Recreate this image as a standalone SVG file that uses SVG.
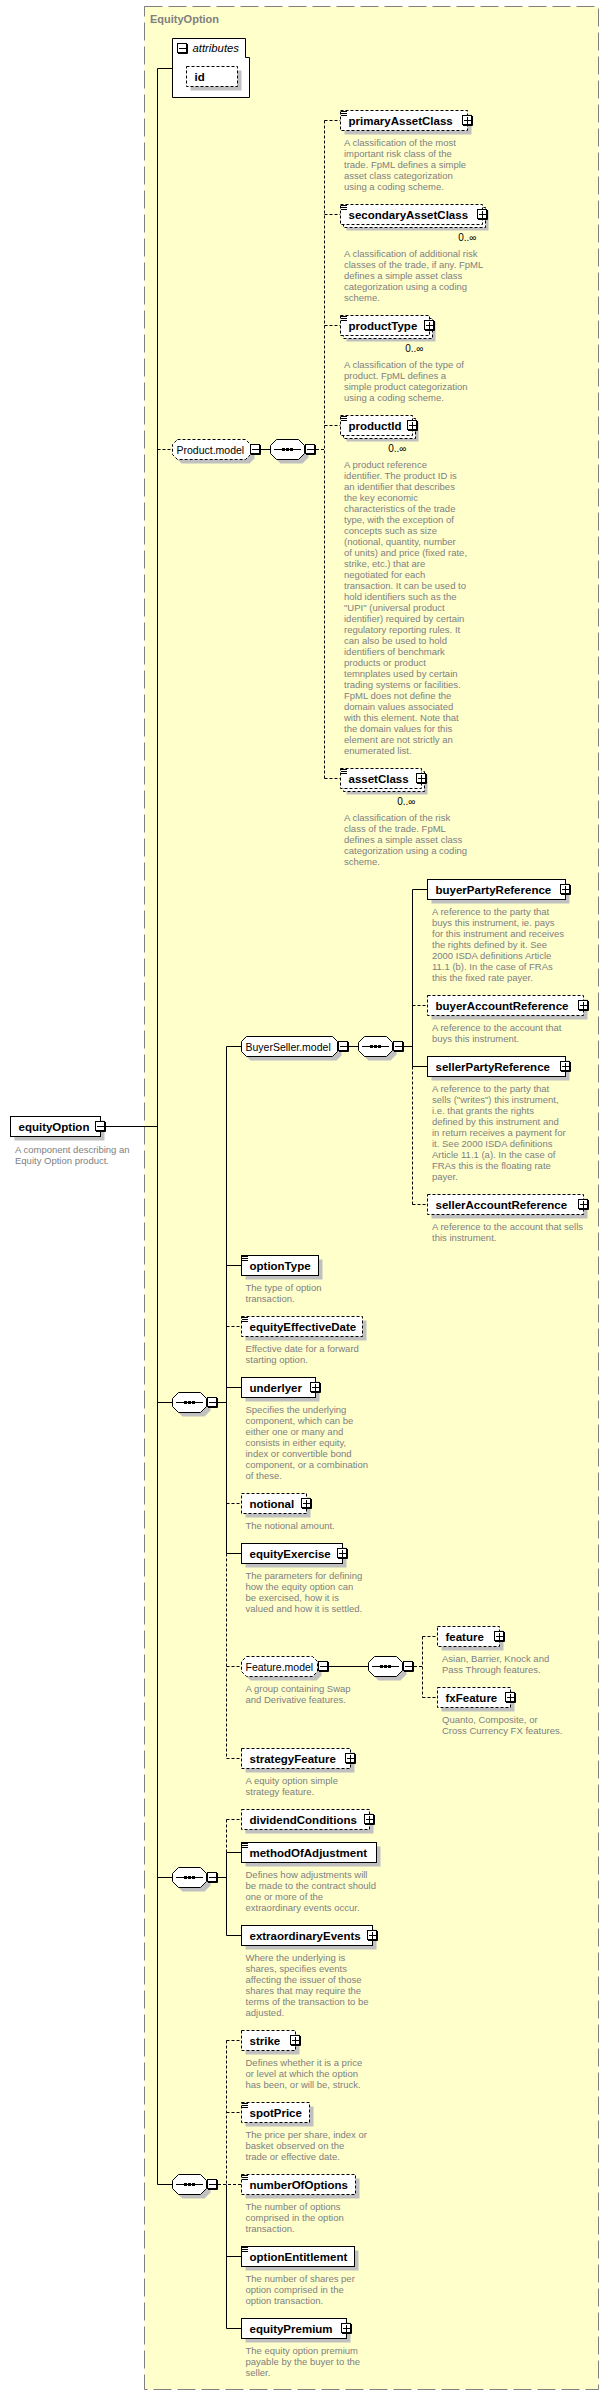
<svg xmlns="http://www.w3.org/2000/svg" width="610" height="2395" viewBox="0 0 610 2395">
<style>
.bx{fill:#fff;stroke:#000;stroke-width:1}
.dsh{stroke-dasharray:3 2}
.sh{fill:#c0c0c0;stroke:none}
.ln{stroke:#000;fill:none;stroke-width:1}
.dl{stroke-dasharray:3 2}
.lb{font-family:"Liberation Sans",Arial,sans-serif;font-weight:bold;font-size:11.5px;fill:#000}
.gl{font-family:"Liberation Sans",Arial,sans-serif;font-size:10.5px;fill:#000}
.ds{font-family:"Liberation Sans",Arial,sans-serif;font-size:9.5px;fill:#808080}
.oc{font-family:"Liberation Sans",Arial,sans-serif;font-size:10px;fill:#000}
</style>
<defs>
<g id="pl"><rect x="0.5" y="0.5" width="9" height="9" fill="#fff" stroke="#000"/><path d="M10.5,1V10.5H1" fill="none" stroke="#000"/><path d="M2,5.5H9M5.5,2V9" stroke="#000"/></g>
<g id="mi"><rect x="0.5" y="0.5" width="9" height="9" fill="#fff" stroke="#000"/><path d="M10.5,1V10.5H1" fill="none" stroke="#000"/><path d="M2,5.5H9" stroke="#000"/></g>
<g id="eq"><path d="M1,1.5H7M1,3.5H7M1,5.5H7" stroke="#000"/></g>
<g id="seq"><path class="sh" transform="translate(4,4)" d="M6.5,.5H28.5L34.5,6.5V14.5L28.5,20.5H6.5L.5,14.5V6.5Z"/><path class="bx" d="M6.5,.5H28.5L34.5,6.5V14.5L28.5,20.5H6.5L.5,14.5V6.5Z"/><path d="M4,10.5H31" stroke="#000"/><path d="M12,9h3v3h-3zM16,9h3v3h-3zM20,9h3v3h-3z" fill="#000"/><use href="#mi" x="35" y="5"/></g>
</defs>
<rect x="144.5" y="6.5" width="454" height="2383" fill="#ffffcc" stroke="#808080" stroke-dasharray="18 6"/>
<text x="150" y="23" font-family="Liberation Sans,Arial,sans-serif" font-weight="bold" font-size="11px" fill="#808080">EquityOption</text>

<g id="connectors">
<path class="ln" d="M106,1126.5H157.5M157.5,68.5V2184.5M157.5,68.5H172.5"/>
<path class="ln dl" d="M157.5,449.5H172.5"/>
<path class="ln" d="M261,449.5H270.5"/>
<path class="ln dl" d="M316,449.5H324.5M324.5,120.5V778.5M324.5,120.5H340.5M324.5,214.5H340.5M324.5,325.5H340.5M324.5,425.5H340.5M324.5,778.5H340.5"/>
<path class="ln" d="M157.5,1402.5H172.5M218,1402.5H226.5M226.5,1046.5V1553.5M226.5,1046.5H241.5M226.5,1265.5H241.5M226.5,1387.5H241.5M226.5,1553.5H241.5"/>
<path class="ln dl" d="M226.5,1553.5V1758.5M226.5,1326.5H241.5M226.5,1503.5H241.5M226.5,1666.5H241.5M226.5,1758.5H241.5"/>
<path class="ln" d="M349,1046.5H358.5M404,1046.5H412.5M412.5,889.5V1066.5M412.5,889.5H427.5M412.5,1066.5H427.5"/>
<path class="ln dl" d="M412.5,1066.5V1204.5M412.5,1005.5H427.5M412.5,1204.5H427.5"/>
<path class="ln" d="M329,1666.5H368.5"/>
<path class="ln dl" d="M414,1666.5H422.5M422.5,1636.5V1697.5M422.5,1636.5H437.5M422.5,1697.5H437.5"/>
<path class="ln" d="M157.5,1877.5H172.5M218,1877.5H226.5M226.5,1852.5V1935.5M226.5,1852.5H241.5M226.5,1935.5H241.5"/>
<path class="ln dl" d="M226.5,1819.5V1852.5M226.5,1819.5H241.5"/>
<path class="ln" d="M157.5,2184.5H172.5M226.5,2184.5V2328.5M226.5,2256.5H241.5M226.5,2328.5H241.5"/>
<path class="ln dl" d="M218,2184.5H241.5M226.5,2040.5V2184.5M226.5,2040.5H241.5M226.5,2112.5H241.5"/>
</g>

<g id="attributes">
<path class="bx" d="M172.5,38.5H245.5V57.5H249.5V97.5H172.5Z"/>
<use href="#mi" x="177" y="43"/>
<text x="192.5" y="52" font-family="Liberation Sans,Arial,sans-serif" font-style="italic" font-size="11.3px">attributes</text>
<rect class="sh" x="190.5" y="70.5" width="51" height="20"/>
<rect class="bx dsh" x="186.5" y="66.5" width="51" height="20"/>
<text class="lb" x="194.5" y="80.5">id</text>
</g>

<g id="equityOption">
<rect class="sh" x="14.5" y="1120.5" width="90" height="20"/>
<rect class="bx" x="10.5" y="1116.5" width="90" height="20"/>
<text class="lb" x="18.5" y="1130.5">equityOption</text>
<use href="#mi" x="95" y="1121"/>
<text class="ds" x="15" y="1152.5">A component describing an<tspan x="15" dy="11">Equity Option product.</tspan></text>
</g>

<g id="ProductModel">
<path class="sh" transform="translate(4,4)" d="M177.5,439.5H245.5L250.5,444.5V454.5L245.5,459.5H177.5L172.5,454.5V444.5Z"/>
<path class="bx dsh" d="M177.5,439.5H245.5L250.5,444.5V454.5L245.5,459.5H177.5L172.5,454.5V444.5Z"/>
<text class="gl" x="176.5" y="453.5">Product.model</text>
<use href="#mi" x="250" y="444"/>
<use href="#seq" x="270" y="439"/>
</g>

<g id="primaryAssetClass">
<rect class="sh" x="344.5" y="114.5" width="127" height="20"/>
<rect class="bx dsh" x="340.5" y="110.5" width="127" height="20"/>
<use href="#eq" x="340" y="110"/>
<text class="lb" x="348.5" y="124.5">primaryAssetClass</text>
<use href="#pl" x="462" y="115"/>
<text class="ds" x="344" y="146">A classification of the most<tspan x="344" dy="11">important risk class of the</tspan><tspan x="344" dy="11">trade. FpML defines a simple</tspan><tspan x="344" dy="11">asset class categorization</tspan><tspan x="344" dy="11">using a coding scheme.</tspan></text>
</g>

<g id="secondaryAssetClass">
<rect class="sh" x="346.5" y="210.5" width="142" height="20"/>
<rect class="bx dsh" x="343.5" y="207.5" width="142" height="20"/>
<rect class="bx dsh" x="340.5" y="204.5" width="142" height="20"/>
<use href="#eq" x="340" y="204"/>
<text class="lb" x="348.5" y="218.5">secondaryAssetClass</text>
<use href="#pl" x="477" y="209"/>
<text class="oc" x="476.5" y="241" text-anchor="end">0..∞</text>
<text class="ds" x="344" y="257">A classification of additional risk<tspan x="344" dy="11">classes of the trade, if any. FpML</tspan><tspan x="344" dy="11">defines a simple asset class</tspan><tspan x="344" dy="11">categorization using a coding</tspan><tspan x="344" dy="11">scheme.</tspan></text>
</g>

<g id="productType">
<rect class="sh" x="346.5" y="321.5" width="89" height="20"/>
<rect class="bx dsh" x="343.5" y="318.5" width="89" height="20"/>
<rect class="bx dsh" x="340.5" y="315.5" width="89" height="20"/>
<use href="#eq" x="340" y="315"/>
<text class="lb" x="348.5" y="329.5">productType</text>
<use href="#pl" x="424" y="320"/>
<text class="oc" x="423.5" y="352" text-anchor="end">0..∞</text>
<text class="ds" x="344" y="368">A classification of the type of<tspan x="344" dy="11">product. FpML defines a</tspan><tspan x="344" dy="11">simple product categorization</tspan><tspan x="344" dy="11">using a coding scheme.</tspan></text>
</g>

<g id="productId">
<rect class="sh" x="346.5" y="421.5" width="72" height="20"/>
<rect class="bx dsh" x="343.5" y="418.5" width="72" height="20"/>
<rect class="bx dsh" x="340.5" y="415.5" width="72" height="20"/>
<use href="#eq" x="340" y="415"/>
<text class="lb" x="348.5" y="429.5">productId</text>
<use href="#pl" x="407" y="420"/>
<text class="oc" x="406.5" y="452" text-anchor="end">0..∞</text>
<text class="ds" x="344" y="468">A product reference<tspan x="344" dy="11">identifier. The product ID is</tspan><tspan x="344" dy="11">an identifier that describes</tspan><tspan x="344" dy="11">the key economic</tspan><tspan x="344" dy="11">characteristics of the trade</tspan><tspan x="344" dy="11">type, with the exception of</tspan><tspan x="344" dy="11">concepts such as size</tspan><tspan x="344" dy="11">(notional, quantity, number</tspan><tspan x="344" dy="11">of units) and price (fixed rate,</tspan><tspan x="344" dy="11">strike, etc.) that are</tspan><tspan x="344" dy="11">negotiated for each</tspan><tspan x="344" dy="11">transaction. It can be used to</tspan><tspan x="344" dy="11">hold identifiers such as the</tspan><tspan x="344" dy="11">"UPI" (universal product</tspan><tspan x="344" dy="11">identifier) required by certain</tspan><tspan x="344" dy="11">regulatory reporting rules. It</tspan><tspan x="344" dy="11">can also be used to hold</tspan><tspan x="344" dy="11">identifiers of benchmark</tspan><tspan x="344" dy="11">products or product</tspan><tspan x="344" dy="11">temnplates used by certain</tspan><tspan x="344" dy="11">trading systems or facilities.</tspan><tspan x="344" dy="11">FpML does not define the</tspan><tspan x="344" dy="11">domain values associated</tspan><tspan x="344" dy="11">with this element. Note that</tspan><tspan x="344" dy="11">the domain values for this</tspan><tspan x="344" dy="11">element are not strictly an</tspan><tspan x="344" dy="11">enumerated list.</tspan></text>
</g>

<g id="assetClass">
<rect class="sh" x="346.5" y="774.5" width="81" height="20"/>
<rect class="bx dsh" x="343.5" y="771.5" width="81" height="20"/>
<rect class="bx dsh" x="340.5" y="768.5" width="81" height="20"/>
<use href="#eq" x="340" y="768"/>
<text class="lb" x="348.5" y="782.5">assetClass</text>
<use href="#pl" x="416" y="773"/>
<text class="oc" x="415.5" y="805" text-anchor="end">0..∞</text>
<text class="ds" x="344" y="821">A classification of the risk<tspan x="344" dy="11">class of the trade. FpML</tspan><tspan x="344" dy="11">defines a simple asset class</tspan><tspan x="344" dy="11">categorization using a coding</tspan><tspan x="344" dy="11">scheme.</tspan></text>
</g>

<g id="BuyerSellerModel">
<path class="sh" transform="translate(4,4)" d="M246.5,1036.5H332.5L337.5,1041.5V1051.5L332.5,1056.5H246.5L241.5,1051.5V1041.5Z"/>
<path class="bx" d="M246.5,1036.5H332.5L337.5,1041.5V1051.5L332.5,1056.5H246.5L241.5,1051.5V1041.5Z"/>
<text class="gl" x="245.5" y="1050.5">BuyerSeller.model</text>
<use href="#mi" x="338" y="1041"/>
<use href="#seq" x="358" y="1036"/>
</g>

<g id="buyerPartyReference">
<rect class="sh" x="431.5" y="883.5" width="138" height="20"/>
<rect class="bx" x="427.5" y="879.5" width="138" height="20"/>
<text class="lb" x="435.5" y="893.5">buyerPartyReference</text>
<use href="#pl" x="560" y="884"/>
<text class="ds" x="432" y="915">A reference to the party that<tspan x="432" dy="11">buys this instrument, ie. pays</tspan><tspan x="432" dy="11">for this instrument and receives</tspan><tspan x="432" dy="11">the rights defined by it. See</tspan><tspan x="432" dy="11">2000 ISDA definitions Article</tspan><tspan x="432" dy="11">11.1 (b). In the case of FRAs</tspan><tspan x="432" dy="11">this the fixed rate payer.</tspan></text>
</g>

<g id="buyerAccountReference">
<rect class="sh" x="431.5" y="999.5" width="156" height="20"/>
<rect class="bx dsh" x="427.5" y="995.5" width="156" height="20"/>
<text class="lb" x="435.5" y="1009.5">buyerAccountReference</text>
<use href="#pl" x="578" y="1000"/>
<text class="ds" x="432" y="1031">A reference to the account that<tspan x="432" dy="11">buys this instrument.</tspan></text>
</g>

<g id="sellerPartyReference">
<rect class="sh" x="431.5" y="1060.5" width="138" height="20"/>
<rect class="bx" x="427.5" y="1056.5" width="138" height="20"/>
<text class="lb" x="435.5" y="1070.5">sellerPartyReference</text>
<use href="#pl" x="560" y="1061"/>
<text class="ds" x="432" y="1092">A reference to the party that<tspan x="432" dy="11">sells ("writes") this instrument,</tspan><tspan x="432" dy="11">i.e. that grants the rights</tspan><tspan x="432" dy="11">defined by this instrument and</tspan><tspan x="432" dy="11">in return receives a payment for</tspan><tspan x="432" dy="11">it. See 2000 ISDA definitions</tspan><tspan x="432" dy="11">Article 11.1 (a). In the case of</tspan><tspan x="432" dy="11">FRAs this is the floating rate</tspan><tspan x="432" dy="11">payer.</tspan></text>
</g>

<g id="sellerAccountReference">
<rect class="sh" x="431.5" y="1198.5" width="156" height="20"/>
<rect class="bx dsh" x="427.5" y="1194.5" width="156" height="20"/>
<text class="lb" x="435.5" y="1208.5">sellerAccountReference</text>
<use href="#pl" x="578" y="1199"/>
<text class="ds" x="432" y="1230">A reference to the account that sells<tspan x="432" dy="11">this instrument.</tspan></text>
</g>

<g id="sequence1"><use href="#seq" x="172" y="1392"/></g>

<g id="optionType">
<rect class="sh" x="245.5" y="1259.5" width="77" height="20"/>
<rect class="bx" x="241.5" y="1255.5" width="77" height="20"/>
<use href="#eq" x="241" y="1255"/>
<text class="lb" x="249.5" y="1269.5">optionType</text>
<text class="ds" x="245.5" y="1291">The type of option<tspan x="245.5" dy="11">transaction.</tspan></text>
</g>

<g id="equityEffectiveDate">
<rect class="sh" x="245.5" y="1320.5" width="121" height="20"/>
<rect class="bx dsh" x="241.5" y="1316.5" width="121" height="20"/>
<use href="#eq" x="241" y="1316"/>
<text class="lb" x="249.5" y="1330.5">equityEffectiveDate</text>
<text class="ds" x="245.5" y="1352">Effective date for a forward<tspan x="245.5" dy="11">starting option.</tspan></text>
</g>

<g id="underlyer">
<rect class="sh" x="245.5" y="1381.5" width="74" height="20"/>
<rect class="bx" x="241.5" y="1377.5" width="74" height="20"/>
<text class="lb" x="249.5" y="1391.5">underlyer</text>
<use href="#pl" x="310" y="1382"/>
<text class="ds" x="245.5" y="1413">Specifies the underlying<tspan x="245.5" dy="11">component, which can be</tspan><tspan x="245.5" dy="11">either one or many and</tspan><tspan x="245.5" dy="11">consists in either equity,</tspan><tspan x="245.5" dy="11">index or convertible bond</tspan><tspan x="245.5" dy="11">component, or a combination</tspan><tspan x="245.5" dy="11">of these.</tspan></text>
</g>

<g id="notional">
<rect class="sh" x="245.5" y="1497.5" width="65" height="20"/>
<rect class="bx dsh" x="241.5" y="1493.5" width="65" height="20"/>
<text class="lb" x="249.5" y="1507.5">notional</text>
<use href="#pl" x="301" y="1498"/>
<text class="ds" x="245.5" y="1529">The notional amount.</text>
</g>

<g id="equityExercise">
<rect class="sh" x="245.5" y="1547.5" width="101" height="20"/>
<rect class="bx" x="241.5" y="1543.5" width="101" height="20"/>
<text class="lb" x="249.5" y="1557.5">equityExercise</text>
<use href="#pl" x="337" y="1548"/>
<text class="ds" x="245.5" y="1579">The parameters for defining<tspan x="245.5" dy="11">how the equity option can</tspan><tspan x="245.5" dy="11">be exercised, how it is</tspan><tspan x="245.5" dy="11">valued and how it is settled.</tspan></text>
</g>

<g id="FeatureModel">
<path class="sh" transform="translate(4,4)" d="M246.5,1656.5H312.5L317.5,1661.5V1671.5L312.5,1676.5H246.5L241.5,1671.5V1661.5Z"/>
<path class="bx dsh" d="M246.5,1656.5H312.5L317.5,1661.5V1671.5L312.5,1676.5H246.5L241.5,1671.5V1661.5Z"/>
<text class="gl" x="245.5" y="1670.5">Feature.model</text>
<use href="#mi" x="318" y="1661"/>
<use href="#seq" x="368" y="1656"/>
<text class="ds" x="245.5" y="1692">A group containing Swap<tspan x="245.5" dy="11">and Derivative features.</tspan></text>
</g>

<g id="feature">
<rect class="sh" x="441.5" y="1630.5" width="62" height="20"/>
<rect class="bx dsh" x="437.5" y="1626.5" width="62" height="20"/>
<text class="lb" x="445.5" y="1640.5">feature</text>
<use href="#pl" x="494" y="1631"/>
<text class="ds" x="442" y="1662">Asian, Barrier, Knock and<tspan x="442" dy="11">Pass Through features.</tspan></text>
</g>

<g id="fxFeature">
<rect class="sh" x="441.5" y="1691.5" width="73" height="20"/>
<rect class="bx dsh" x="437.5" y="1687.5" width="73" height="20"/>
<text class="lb" x="445.5" y="1701.5">fxFeature</text>
<use href="#pl" x="505" y="1692"/>
<text class="ds" x="442" y="1723">Quanto, Composite, or<tspan x="442" dy="11">Cross Currency FX features.</tspan></text>
</g>

<g id="strategyFeature">
<rect class="sh" x="245.5" y="1752.5" width="109" height="20"/>
<rect class="bx dsh" x="241.5" y="1748.5" width="109" height="20"/>
<text class="lb" x="249.5" y="1762.5">strategyFeature</text>
<use href="#pl" x="345" y="1753"/>
<text class="ds" x="245.5" y="1784">A equity option simple<tspan x="245.5" dy="11">strategy feature.</tspan></text>
</g>

<g id="sequence2"><use href="#seq" x="172" y="1867"/></g>

<g id="dividendConditions">
<rect class="sh" x="245.5" y="1813.5" width="128" height="20"/>
<rect class="bx dsh" x="241.5" y="1809.5" width="128" height="20"/>
<text class="lb" x="249.5" y="1823.5">dividendConditions</text>
<use href="#pl" x="364" y="1814"/>
</g>

<g id="methodOfAdjustment">
<rect class="sh" x="245.5" y="1846.5" width="135" height="20"/>
<rect class="bx" x="241.5" y="1842.5" width="135" height="20"/>
<use href="#eq" x="241" y="1842"/>
<text class="lb" x="249.5" y="1856.5">methodOfAdjustment</text>
<text class="ds" x="245.5" y="1878">Defines how adjustments will<tspan x="245.5" dy="11">be made to the contract should</tspan><tspan x="245.5" dy="11">one or more of the</tspan><tspan x="245.5" dy="11">extraordinary events occur.</tspan></text>
</g>

<g id="extraordinaryEvents">
<rect class="sh" x="245.5" y="1929.5" width="131" height="20"/>
<rect class="bx" x="241.5" y="1925.5" width="131" height="20"/>
<text class="lb" x="249.5" y="1939.5">extraordinaryEvents</text>
<use href="#pl" x="367" y="1930"/>
<text class="ds" x="245.5" y="1961">Where the underlying is<tspan x="245.5" dy="11">shares, specifies events</tspan><tspan x="245.5" dy="11">affecting the issuer of those</tspan><tspan x="245.5" dy="11">shares that may require the</tspan><tspan x="245.5" dy="11">terms of the transaction to be</tspan><tspan x="245.5" dy="11">adjusted.</tspan></text>
</g>

<g id="sequence3"><use href="#seq" x="172" y="2174"/></g>

<g id="strike">
<rect class="sh" x="245.5" y="2034.5" width="54" height="20"/>
<rect class="bx dsh" x="241.5" y="2030.5" width="54" height="20"/>
<text class="lb" x="249.5" y="2044.5">strike</text>
<use href="#pl" x="290" y="2035"/>
<text class="ds" x="245.5" y="2066">Defines whether it is a price<tspan x="245.5" dy="11">or level at which the option</tspan><tspan x="245.5" dy="11">has been, or will be, struck.</tspan></text>
</g>

<g id="spotPrice">
<rect class="sh" x="245.5" y="2106.5" width="68" height="20"/>
<rect class="bx dsh" x="241.5" y="2102.5" width="68" height="20"/>
<use href="#eq" x="241" y="2102"/>
<text class="lb" x="249.5" y="2116.5">spotPrice</text>
<text class="ds" x="245.5" y="2138">The price per share, index or<tspan x="245.5" dy="11">basket observed on the</tspan><tspan x="245.5" dy="11">trade or effective date.</tspan></text>
</g>

<g id="numberOfOptions">
<rect class="sh" x="245.5" y="2178.5" width="114" height="20"/>
<rect class="bx dsh" x="241.5" y="2174.5" width="114" height="20"/>
<use href="#eq" x="241" y="2174"/>
<text class="lb" x="249.5" y="2188.5">numberOfOptions</text>
<text class="ds" x="245.5" y="2210">The number of options<tspan x="245.5" dy="11">comprised in the option</tspan><tspan x="245.5" dy="11">transaction.</tspan></text>
</g>

<g id="optionEntitlement">
<rect class="sh" x="245.5" y="2250.5" width="113" height="20"/>
<rect class="bx" x="241.5" y="2246.5" width="113" height="20"/>
<use href="#eq" x="241" y="2246"/>
<text class="lb" x="249.5" y="2260.5">optionEntitlement</text>
<text class="ds" x="245.5" y="2282">The number of shares per<tspan x="245.5" dy="11">option comprised in the</tspan><tspan x="245.5" dy="11">option transaction.</tspan></text>
</g>

<g id="equityPremium">
<rect class="sh" x="245.5" y="2322.5" width="105" height="20"/>
<rect class="bx" x="241.5" y="2318.5" width="105" height="20"/>
<text class="lb" x="249.5" y="2332.5">equityPremium</text>
<use href="#pl" x="341" y="2323"/>
<text class="ds" x="245.5" y="2354">The equity option premium<tspan x="245.5" dy="11">payable by the buyer to the</tspan><tspan x="245.5" dy="11">seller.</tspan></text>
</g>
</svg>
